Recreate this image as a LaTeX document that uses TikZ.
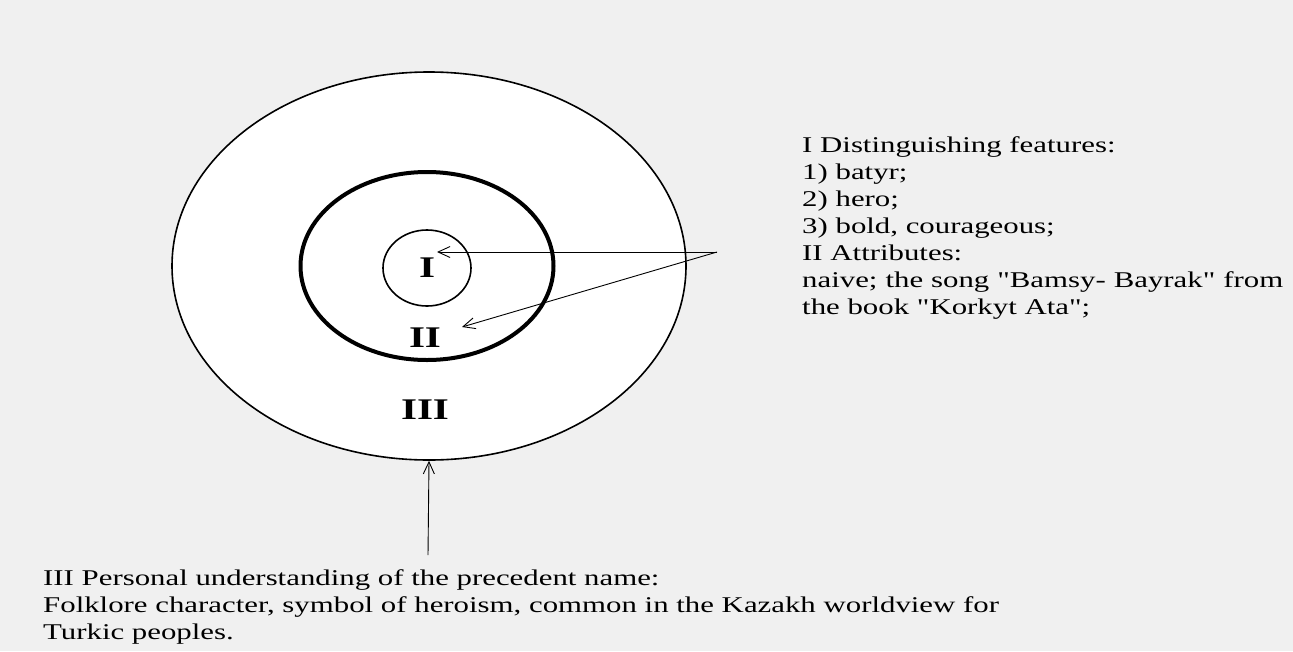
\documentclass[tikz,border=0pt]{standalone}
\usepackage{fontspec}
\newfontfamily\notefont{Liberation Serif}[FakeStretch=1.37]
\usepackage{tikz}
\usetikzlibrary{shapes.geometric, positioning, arrows.meta}
\definecolor{paper}{RGB}{240,240,240}
\tikzset{
x=1pt, y=-1pt, % one unit is one pixel of the page, y runs down
>={Straight Barb[length=12pt, width=11pt]}, % thin open arrow heads
ring/.style={draw, ellipse, fill=white, inner sep=0pt}, % sets the properties for each ring
numeral/.style={font=\notefont\fontsize{30}{30}\selectfont\bfseries}, % the I, II, III inside the rings
note/.style={font=\notefont\fontsize{22.5}{27}\selectfont, align=left, inner sep=0pt}, % text beside the rings
pointer/.style={->, line width=0.9pt}, % arrows from the notes
}

\begin{document}
\begin{tikzpicture}
            \fill[paper] (0,0) rectangle (1293,651);
            \useasboundingbox (0,0) rectangle (1293,651);
            \node[ring, line width=1.6pt, minimum width=514pt, minimum height=388pt] (outer) at (429,266) {};
            \node[ring, line width=4pt, minimum width=253pt, minimum height=188pt] (middle) at (427,266) {};
            \node[ring, line width=1.6pt, minimum width=88pt, minimum height=76pt] (inner) at (427,268) {};
            \node[numeral] (one) at (inner) {I};
            \node[numeral] (two) at (425,338) {II};
            \node[numeral] (three) at (425,410) {III};
            \node[note, anchor=north west] (features) at (802,136) {I Distinguishing features:\\
                1) batyr;\\
                2) hero;\\
                3) bold, courageous;\\
                II Attributes:\\
                \makebox[481pt][s]{naive; the song "Bamsy- Bayrak" from}\\
                the book "Korkyt Ata";};
            \node[note, anchor=north west] (personal) at (43,569) {III Personal understanding of the precedent name:\\
                Folklore character, symbol of heroism, common in the Kazakh worldview for\\
                Turkic peoples.};
            \coordinate (src) at (717,252);
            \coordinate (stem) at (428,555);
            \draw[pointer] (src) -- (437,252);
            \draw[pointer] (src) -- (462,327);
            \draw[pointer] (stem) -- (outer.south);
            \end{tikzpicture}
\end{document}
